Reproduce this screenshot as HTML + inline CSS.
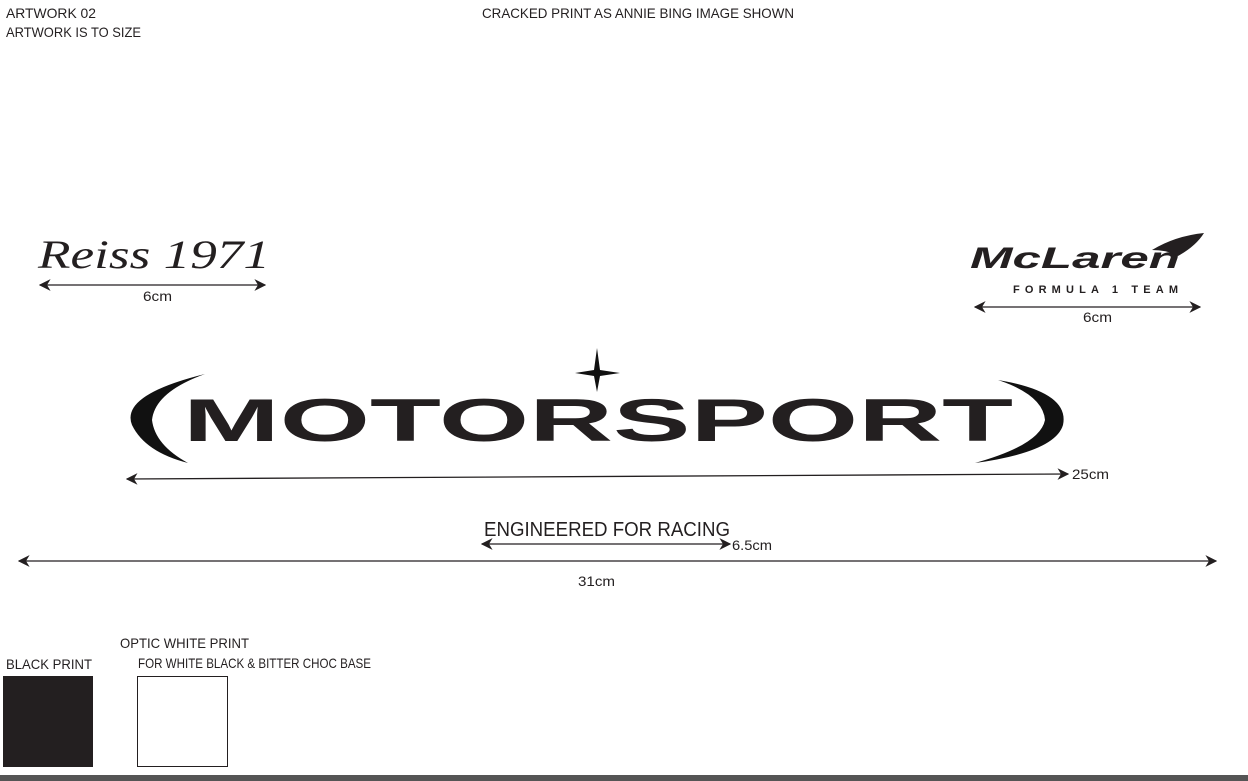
<!DOCTYPE html>
<html><head><style>
body{margin:0;background:#fff;}
svg{display:block;}
text{font-family:"Liberation Sans",sans-serif;fill:#231f20;}
</style></head><body>
<svg width="1248" height="781" viewBox="0 0 1248 781" xmlns="http://www.w3.org/2000/svg">
<defs>
<marker id="a" viewBox="0 0 10 10" refX="9" refY="5" markerWidth="9" markerHeight="9" orient="auto-start-reverse"><path d="M0,0 L10,5 L0,10 L3,5 Z" fill="#231f20"/></marker>
</defs>
<text x="6" y="18" font-size="14" textLength="90" lengthAdjust="spacingAndGlyphs">ARTWORK 02</text>
<text x="6" y="37" font-size="14" textLength="135" lengthAdjust="spacingAndGlyphs">ARTWORK IS TO SIZE</text>
<text x="482" y="18" font-size="14" textLength="312" lengthAdjust="spacingAndGlyphs">CRACKED PRINT AS ANNIE BING IMAGE SHOWN</text>

<text x="38" y="268" font-size="40" font-style="italic" style="font-family:'Liberation Serif',serif" textLength="232" lengthAdjust="spacingAndGlyphs">Reiss 1971</text>
<line x1="40" y1="285" x2="265" y2="285" stroke="#231f20" stroke-width="1.3" marker-start="url(#a)" marker-end="url(#a)"/>
<text x="143" y="301" font-size="14" textLength="29" lengthAdjust="spacingAndGlyphs">6cm</text>

<text x="970" y="268" font-size="30" font-weight="bold" font-style="italic" textLength="210" lengthAdjust="spacingAndGlyphs">McLaren</text>
<path d="M1152,250 Q1175,236 1204,233 Q1196,246 1178,256 Q1168,250 1152,250 Z" fill="#231f20"/>
<text x="1013" y="293" font-size="11" font-weight="bold" textLength="165" lengthAdjust="spacing">FORMULA 1 TEAM</text>
<line x1="975" y1="307" x2="1200" y2="307" stroke="#231f20" stroke-width="1.3" marker-start="url(#a)" marker-end="url(#a)"/>
<text x="1083" y="322" font-size="14" textLength="29" lengthAdjust="spacingAndGlyphs">6cm</text>

<path d="M597,348 L600,370 L620,373 L600,376 L597,392 L594,376 L575,373 L594,370 Z" fill="#111"/>
<path d="M205,374 Q120,395 132,425 Q145,452 188,463 Q155,445 152,420 Q155,392 205,374 Z" fill="#111"/>
<path d="M998,380 Q1070,392 1063,425 Q1055,452 975,463 Q1040,445 1045,420 Q1043,395 998,380 Z" fill="#111"/>
<text x="183" y="441" font-size="60" font-weight="bold" textLength="830" lengthAdjust="spacingAndGlyphs">MOTORSPORT</text>
<line x1="127" y1="479" x2="1068" y2="474" stroke="#231f20" stroke-width="1.3" marker-start="url(#a)" marker-end="url(#a)"/>
<text x="1072" y="479" font-size="14" textLength="37" lengthAdjust="spacingAndGlyphs">25cm</text>

<text x="484" y="536" font-size="20" textLength="246" lengthAdjust="spacingAndGlyphs">ENGINEERED FOR RACING</text>
<line x1="482" y1="544" x2="730" y2="544" stroke="#231f20" stroke-width="1.3" marker-start="url(#a)" marker-end="url(#a)"/>
<text x="732" y="550" font-size="14" textLength="40" lengthAdjust="spacingAndGlyphs">6.5cm</text>
<line x1="19" y1="561" x2="1216" y2="561" stroke="#231f20" stroke-width="1.3" marker-start="url(#a)" marker-end="url(#a)"/>
<text x="578" y="586" font-size="14" textLength="37" lengthAdjust="spacingAndGlyphs">31cm</text>

<text x="120" y="648" font-size="14" textLength="129" lengthAdjust="spacingAndGlyphs">OPTIC WHITE PRINT</text>
<text x="138" y="668" font-size="14" textLength="233" lengthAdjust="spacingAndGlyphs">FOR WHITE BLACK &amp; BITTER CHOC BASE</text>
<text x="6" y="669" font-size="14" textLength="86" lengthAdjust="spacingAndGlyphs">BLACK PRINT</text>
<rect x="3" y="676" width="90" height="91" fill="#231f20"/>
<rect x="137.5" y="676.5" width="90" height="90" fill="#fff" stroke="#231f20" stroke-width="1"/>
<rect x="0" y="775" width="1248" height="6" fill="#555"/>
</svg>
</body></html>
